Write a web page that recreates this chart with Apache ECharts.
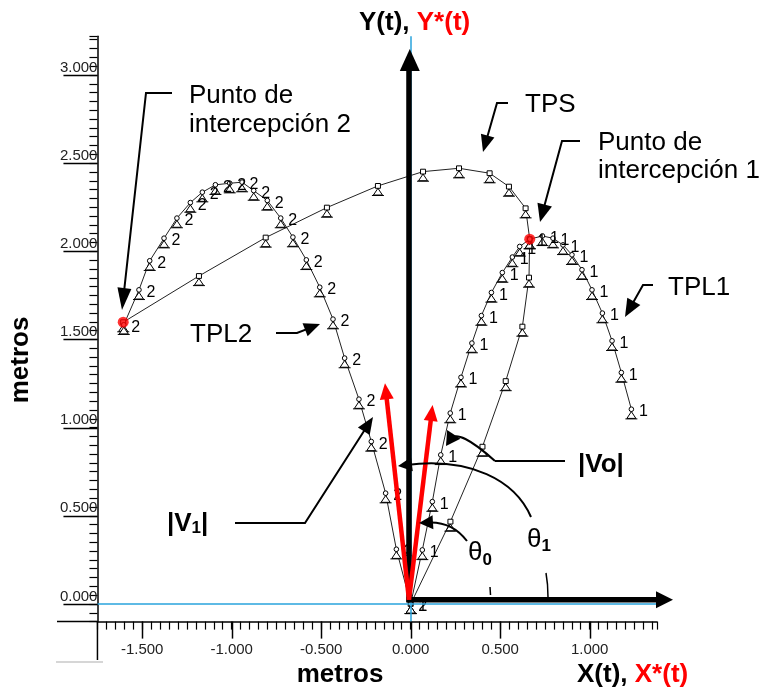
<!DOCTYPE html>
<html><head><meta charset="utf-8">
<script src="https://cdn.jsdelivr.net/npm/echarts@6/dist/echarts.min.js"></script>
<style>html,body{margin:0;padding:0;background:#fff}#c{width:762px;height:690px}</style>
</head><body><div id="c"></div>
<script>
// ---------- data (metros) ----------
const tpl1 = [[0,0],[0.065,0.306],[0.121,0.580],[0.168,0.845],[0.221,1.082],[0.281,1.285],[0.342,1.479],[0.395,1.635],[0.451,1.766],[0.512,1.879],[0.568,1.967],[0.609,2.027],[0.665,2.069],[0.736,2.087],[0.795,2.074],[0.851,2.036],[0.901,1.980],[0.957,1.895],[1.013,1.781],[1.071,1.649],[1.125,1.492],[1.177,1.312],[1.233,1.104]];
const tpl2 = [[0,0],[-0.080,0.310],[-0.140,0.628],[-0.220,0.921],[-0.289,1.161],[-0.369,1.394],[-0.434,1.615],[-0.508,1.796],[-0.583,1.951],[-0.658,2.080],[-0.726,2.188],[-0.801,2.288],[-0.877,2.344],[-0.942,2.392],[-1.011,2.386],[-1.091,2.377],[-1.164,2.335],[-1.231,2.276],[-1.306,2.188],[-1.378,2.074],[-1.458,1.946],[-1.518,1.781],[-1.603,1.583]];
const tps = [[0,0],[0.222,0.467],[0.401,0.892],[0.531,1.264],[0.624,1.573],[0.661,1.851],[0.665,2.069],[0.642,2.244],[0.549,2.367],[0.441,2.443],[0.270,2.471],[0.069,2.452],[-0.183,2.371],[-0.468,2.248],[-0.810,2.078],[-1.183,1.860],[-1.606,1.598]];
const intercepts = [[-1.606,1.598],[0.665,2.069]];
const vel0 = [0.132, 1.104];   // |Vo|
const vel1 = [-0.134, 1.227];  // |V1|
// axis ranges / tick values
const xRange = [-1.75, 1.375], yRange = [-0.1, 3.22];
const xMajorRange = [-1.5, 1.0], yMajorRange = [0, 3.0];
const xMajor = [-1.5, -1.0, -0.5, 0, 0.5, 1.0];
const yMajor = [0, 0.5, 1.0, 1.5, 2.0, 2.5, 3.0];
const majorStep = 0.5, minorStep = 0.05;

const FF = '"Liberation Sans", Arial, Helvetica, sans-serif';
const symTPL = 'path://M6,1.7 A2.3,2.3 0 1,1 5.99,1.7 Z M6,6.3 L1.5,13 L10.5,13 Z M0,13.5 L12,13.5';
const symTPS = 'path://M3.5,1 L8.5,1 L8.5,6 L3.5,6 Z M6,6 L1.5,13 L10.5,13 Z M0,13.5 L12,13.5';

// plot frame (pixels)
const G = {left:97.45, right:105.2, top:36.2, bottom:68.4};
const W = 762, H = 690;
const pxPerX = (W - G.left - G.right) / (xRange[1]-xRange[0]);
const pxPerY = (H - G.top - G.bottom) / (yRange[1]-yRange[0]);
const xPx = v => G.left + (v - xRange[0]) * pxPerX;
const yPx = v => G.top + (yRange[1] - v) * pxPerY;

const chart = echarts.init(document.getElementById('c'));
const hidden = (gi, min, max) => ({type:'value', gridIndex:gi, min, max, show:false});
const labelAxis = (gi, min, max, pos, label) => ({
  type:'value', gridIndex:gi, min, max, interval:majorStep, position:pos, splitLine:{show:false},
  axisLine:{show:false, onZero:false}, axisTick:{show:false}, axisLabel:label
});
function lineSeries(name, data, sym, lab){
  return {
    type:'line', name, data, xAxisIndex:0, yAxisIndex:0,
    symbol:sym, symbolSize:[12,12], symbolOffset:[0,3.6], showSymbol:true, showAllSymbol:true,
    lineStyle:{color:'#222', width:1}, itemStyle:{color:'#fff', borderColor:'#000', borderWidth:1},
    label: lab ? {show:true, formatter:lab, position:'right', distance:1, offset:[0,-1], fontSize:16, color:'#000', fontFamily:FF} : {show:false},
    emphasis:{disabled:true}, z:3, clip:false, silent:true
  };
}
const xLab = {show:true, formatter:v=>v.toFixed(3), margin:21, fontSize:15, color:'#222', fontFamily:FF};
const yLab = {show:true, formatter:v=>v.toFixed(3), margin:0, verticalAlign:'bottom', fontSize:15, color:'#222', fontFamily:FF};
chart.setOption({
  animation:false,
  grid:[
    {left:G.left, right:G.right, top:G.top, bottom:G.bottom},
    {left:G.left, right:G.right, top:yPx(yMajorRange[1]), bottom:H - yPx(yMajorRange[0])},
    {left:xPx(xMajorRange[0]), right:W - xPx(xMajorRange[1]), top:G.top, bottom:G.bottom}
  ],
  xAxis:[
    {type:'value', gridIndex:0, min:xRange[0], max:xRange[1], interval:minorStep, position:'bottom', splitLine:{show:false},
      axisLine:{show:true,onZero:false,lineStyle:{color:'#000',width:1.5}},
      axisTick:{show:true,length:8,lineStyle:{color:'#000', width:1.2}}, axisLabel:{show:false}},
    hidden(1, xRange[0], xRange[1]),
    labelAxis(2, xMajorRange[0], xMajorRange[1], 'bottom', xLab)
  ],
  yAxis:[
    {type:'value', gridIndex:0, min:yRange[0], max:yRange[1], interval:minorStep, position:'left', splitLine:{show:false},
      axisLine:{show:true,onZero:false,lineStyle:{color:'#000',width:1.5}},
      axisTick:{show:true,length:8,lineStyle:{color:'#000', width:1.2}}, axisLabel:{show:false}},
    labelAxis(1, yMajorRange[0], yMajorRange[1], 'left', yLab),
    hidden(2, yRange[0], yRange[1])
  ],
  series:[
    lineSeries('TPS', tps, symTPS, null),
    lineSeries('TPL1', tpl1, symTPL, '1'),
    lineSeries('TPL2', tpl2, symTPL, '2'),
    {type:'scatter', data:intercepts, xAxisIndex:0, yAxisIndex:0, symbol:'circle', symbolSize:11, itemStyle:{color:'#ff0000'}, z:6, silent:true,
     markLine:{silent:true, symbol:['none','none'], label:{show:false}, animation:false,
       lineStyle:{color:'#29a3dc', width:1.5, type:'solid'}, data:[{xAxis:0},{yAxis:0}]}}
  ]
});

// ---------- annotations ----------
const ctx = document.createElement('canvas').getContext('2d');
function tw(t, font){ ctx.font = font; return ctx.measureText(t).width; }
function head(tip, from, L, Wd, color, z){
  const dx = tip[0]-from[0], dy = tip[1]-from[1], len = Math.hypot(dx,dy);
  const ux = dx/len, uy = dy/len, bx = tip[0]-ux*L, by = tip[1]-uy*L;
  return {type:'polygon', z:z||50, silent:true, shape:{points:[tip,[bx-uy*Wd,by+ux*Wd],[bx+uy*Wd,by-ux*Wd]]}, style:{fill:color}};
}
function polyArrow(pts, L, Wd, lw, color, z){
  const tip = pts[pts.length-1], prev = pts[pts.length-2];
  const dx = tip[0]-prev[0], dy = tip[1]-prev[1], len = Math.hypot(dx,dy);
  const end = [tip[0]-dx/len*L*0.7, tip[1]-dy/len*L*0.7];
  const p = pts.slice(0,-1).concat([end]);
  return [{type:'polyline', z:z||50, silent:true, shape:{points:p}, style:{stroke:color, lineWidth:lw, fill:null}}, head(tip, prev, L, Wd, color, z)];
}
function curveArrow(p0, c1, c2, tip, L, Wd, lw, color){
  const last = c2 || c1;
  const dx = tip[0]-last[0], dy = tip[1]-last[1], len = Math.hypot(dx,dy);
  const end = [tip[0]-dx/len*L*0.6, tip[1]-dy/len*L*0.6];
  const shape = {x1:p0[0], y1:p0[1], x2:end[0], y2:end[1], cpx1:c1[0], cpy1:c1[1]};
  if (c2) { shape.cpx2 = c2[0]; shape.cpy2 = c2[1]; }
  return [{type:'bezierCurve', z:50, silent:true, shape, style:{stroke:color, lineWidth:lw, fill:null}}, head(tip, last, L, Wd, color)];
}
function line(a, b, lw, color, z){
  return {type:'line', z:z||50, silent:true, shape:{x1:a[0],y1:a[1],x2:b[0],y2:b[1]}, style:{stroke:color, lineWidth:lw}};
}
function text(x, y, t, font, fill, align, rot){
  const el = {type:'text', z:60, silent:true, x, y, style:{text:t, font, fill, align:align||'left', verticalAlign:'middle'}};
  if (rot) el.rotation = rot;
  return el;
}

const toPx = v => chart.convertToPixel({seriesIndex:1}, v);
const p00 = toPx([0,0]);
const O = [p00[0]-1.7, p00[1]-4.3];       // corner of the X(t)/Y(t) frame
const rel = v => { const p = toPx(v); return [O[0] + p[0]-p00[0], O[1] + p[1]-p00[1]]; };

const g = [];
// long major ticks, placed through the series' scales
const axisX = toPx([xRange[0], 0])[0];
const axisY = toPx([0, yRange[0]])[1];
yMajor.forEach(v => { const py = Math.round(toPx([0, v])[1]) + 0.5; g.push(line([axisX-34, py], [axisX, py], 1.5, '#000', 10)); });
xMajor.forEach(v => { const px = Math.round(toPx([v, 0])[0]) + 0.5; g.push(line([px, axisY], [px, axisY+17], 1.5, '#000', 10)); });
// frame arrows (black)
const yTip = [O[0]+0.8, rel([0,3.123])[1]];
const xTip = [rel([1.475,0])[0], O[1]];
g.push(line([O[0], O[1]+2.5], [O[0], yTip[1]+18], 5.5, '#000', 40), head(yTip, [yTip[0], O[1]], 22, 10, '#000', 40));
g.push(line([O[0]-2.5, O[1]], [xTip[0]-14, O[1]], 5.5, '#000', 40), head(xTip, [O[0], O[1]], 17, 8.5, '#000', 40));
// velocity vectors (red)
[vel0, vel1].forEach(v => {
  const tip = rel(v);
  g.push(line(O, [tip[0] - (tip[0]-O[0])*0.05, tip[1] - (tip[1]-O[1])*0.05], 4.5, '#ff0000', 45), head(tip, O, 16, 7, '#ff0000', 45));
});
// callout arrows
const K = '#000';
g.push(...polyArrow([[172,93],[146,93],[122,310]], 22, 7, 2, K));
g.push(...polyArrow([[508,103],[497,103],[483,152]], 17, 7, 2, K));
g.push(...polyArrow([[580,141],[562,141],[540,222]], 18, 7.5, 2, K));
g.push(...polyArrow([[653,285],[643,285],[625,317]], 18, 7.5, 2, K));
g.push(...polyArrow([[276,333],[297,333],[320,324]], 16, 7, 2, K));
g.push(...polyArrow([[235,523],[305,523],[373,417]], 17, 7, 2, K));
g.push(line([565,461],[495,461], 2, K));
g.push(...curveArrow([495,461],[458,428],null,[446,446], 14, 8, 2, K));
g.push(...curveArrow([467,541],[452,521],null,[419,523], 14, 7, 2, K));
g.push(line([490,587],[490.5,595], 1.5, K));
g.push(...curveArrow([531,517],[515,480],[470,457],[398,466], 14, 7, 2, K));
g.push({type:'bezierCurve', z:50, silent:true, shape:{x1:546,y1:573,x2:548,y2:597,cpx1:548,cpy1:584}, style:{stroke:K, lineWidth:1.5, fill:null}});
// frame artefacts
g.push(line([57,axisY],[axisX,axisY],1.5,'#000'), line([axisX,axisY],[axisX,660],1.5,'#000'), line([56,662],[103,662],1.5,'#c8c8c8'));

// texts
const R26 = '26px ' + FF, B26 = 'bold 26px ' + FF, B17 = 'bold 17px ' + FF;
g.push(text(189,96,'Punto de',R26,'#000'), text(189,125,'intercepción 2',R26,'#000'));
g.push(text(525,105,'TPS',R26,'#000'));
g.push(text(598,143,'Punto de',R26,'#000'), text(598,171,'intercepción 1',R26,'#000'));
g.push(text(668,288,'TPL1',R26,'#000'));
g.push(text(190,335,'TPL2',R26,'#000'));
g.push(text(578,465,'|Vo|',B26,'#000'));
{ let x = 167; g.push(text(x,524,'|V',B26,'#000')); x += tw('|V',B26);
  g.push(text(x,528,'1',B17,'#000')); x += tw('1',B17); g.push(text(x,524,'|',B26,'#000')); }
{ let x = 468; g.push(text(x,553,'θ',R26,'#000')); x += tw('θ',R26); g.push(text(x,560,'0',B17,'#000')); }
{ let x = 527; g.push(text(x,540,'θ',R26,'#000')); x += tw('θ',R26); g.push(text(x,546,'1',B17,'#000')); }
// axis titles
g.push(text(340,675,'metros',B26,'#000','center'));
g.push(text(21,360,'metros',B26,'#000','center',Math.PI/2));
{ let x = 359; g.push(text(x,23,'Y(t), ',B26,'#000')); x += tw('Y(t), ',B26); g.push(text(x,23,'Y*(t)',B26,'#ff0000')); }
{ let x = 577; g.push(text(x,675,'X(t), ',B26,'#000')); x += tw('X(t), ',B26); g.push(text(x,675,'X*(t)',B26,'#ff0000')); }

chart.setOption({graphic:g});
</script></body></html>
